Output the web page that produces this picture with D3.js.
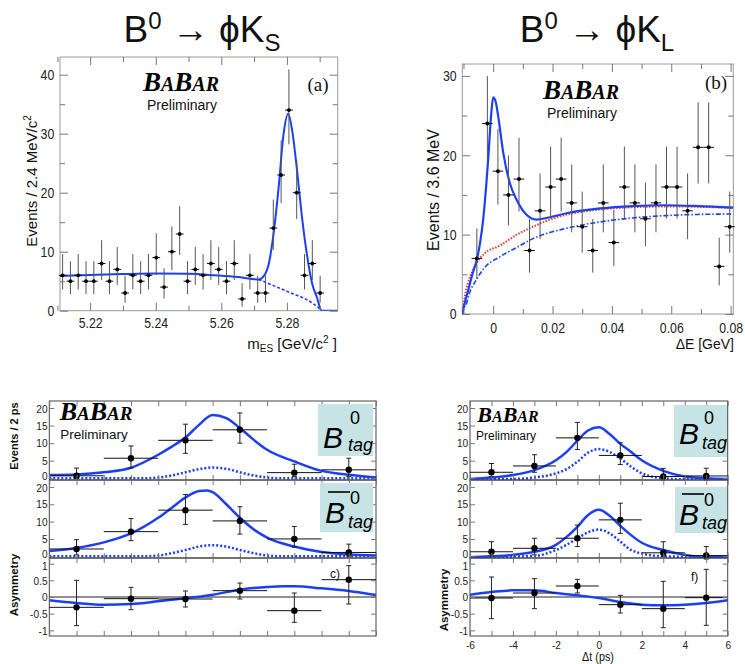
<!DOCTYPE html>
<html>
<head>
<meta charset="utf-8">
<script src="https://cdn.jsdelivr.net/npm/d3@7"></script>
<style>
  body { margin: 0; background: #fff; }
  svg { display: block; }
</style>
</head>
<body>
<div id="chart"></div>
<script>
////////////
// DATA
////////////

// (a) B0 -> phi K_S, m_ES histogram (events per bin)
const aBinStart = 5.2116, aBinWidth = 0.00238;
const aCounts = [6, 5, 6, 5, 5, 8, 5, 7, 3, 6, 5, 6, 9, 4, 10, 13, 5, 7, 6, 8, 7, 5, 8, 2, 6, 3, 3, 14, 23, 34, 20, 6, 8, 3];
// fit curves: [m_ES, events]
const aFitTotal = [[5.2108, 5.9], [5.22, 6.05], [5.23, 6.2], [5.24, 6.3], [5.25, 6.25], [5.258, 6.0], [5.265, 5.7], [5.27, 5.35],
  [5.2714, 5.3], [5.273, 5.9], [5.2745, 8.0], [5.276, 13.3], [5.2775, 21.0], [5.279, 30.0], [5.2804, 33.4], [5.2816, 30.6],
  [5.2831, 23.8], [5.2846, 15.9], [5.2862, 9.2], [5.2877, 4.6], [5.2892, 2.2], [5.2906, 0], [5.2955, 0]];
const aFitBkg = [[5.2714, 5.3], [5.274, 4.7], [5.277, 4.0], [5.28, 3.3], [5.283, 2.6], [5.286, 1.9], [5.288, 1.2], [5.2895, 0.6], [5.2906, 0]];
const aTicksX = [5.22, 5.24, 5.26, 5.28];
const aMinorX = [5.21, 5.23, 5.25, 5.27, 5.29];
const aTicksY = [0, 10, 20, 30, 40];
const aMinorY = [5, 15, 25, 35];

// (b) B0 -> phi K_L, Delta E histogram
const bBinStart = -0.0055, bBinWidth = 0.00355;
const bCounts = [7, 24, 18, 15, 17, 8, 13, 16, 17, 14, 11, 8, 14, 9, 16, 14, 12, 14, 16, 16, 13, 21, 21, 6, 11];
const bFitTotal = [[-0.0104, 0], [-0.0095, 1.5], [-0.0084, 3.0], [-0.007, 5.0], [-0.0054, 7.0], [-0.0044, 9.0], [-0.0034, 11.8],
  [-0.0017, 19.4], [-0.0007, 25.0], [0.0, 27.3], [0.0008, 26.8], [0.0017, 24.9], [0.0034, 20.3], [0.0056, 16.5], [0.0079, 14.4],
  [0.011, 12.6], [0.0146, 11.9], [0.018, 12.1], [0.0247, 12.7], [0.036, 13.3], [0.047, 13.6], [0.058, 13.7], [0.069, 13.6], [0.0809, 13.4]];
const bFitRed = [[-0.0104, 0], [-0.01, 1.0], [-0.0094, 2.5], [-0.0084, 4.0], [-0.007, 5.4], [-0.0056, 6.4], [-0.003, 7.6],
  [0.0022, 8.6], [0.008, 10.0], [0.0134, 11.0], [0.0224, 12.3], [0.0303, 12.9], [0.04, 13.3], [0.05, 13.5], [0.06, 13.55], [0.07, 13.5], [0.0809, 13.35]];
const bFitBlue = [[-0.0104, 0], [-0.01, 0.6], [-0.009, 1.3], [-0.008, 2.6], [-0.0057, 4.3], [-0.003, 5.8], [0.0022, 7.2],
  [0.008, 8.4], [0.0134, 9.5], [0.0247, 10.8], [0.036, 11.6], [0.047, 12.1], [0.058, 12.4], [0.07, 12.55], [0.0809, 12.6]];
const bTicksX = [0, 0.02, 0.04, 0.06, 0.08];
const bMinorX = [-0.01, 0.01, 0.03, 0.05, 0.07];
const bTicksY = [0, 10, 20, 30];
const bMinorY = [5, 15, 25];

// Delta t plots (bins of 2 ps)
const dtCenters = [-5, -3, -1, 1, 3, 5];
const dtHalf = 1;
const dtTicks = [-6, -4, -2, 0, 2, 4, 6];
const dtMinor = [-5, -3, -1, 1, 3, 5];
const evTicks = [0, 5, 10, 15, 20];
const asymTicks = [-1, -0.5, 0, 0.5, 1];

// phi K_S (left)
const ksTagVals = [0.7, 5.7, 10.8, 13.8, 1.6, 2.4];
const ksTagUp = [2.2, 3.5, 4.6, 4.8, 2.4, 3.3];
const ksTagDn = [0.7, 2.8, 3.7, 3.8, 1.1, 1.9];
const ksBarVals = [2.1, 7.1, 13.3, 10.2, 5.0, 1.1];
const ksBarUp = [2.7, 3.8, 4.5, 4.1, 3.6, 2.4];
const ksBarDn = [1.7, 2.6, 4.1, 3.8, 2.4, 1.1];
const ksAsymVals = [-0.31, -0.05, -0.06, 0.19, -0.41, 0.52];
const ksAsymUp = [0.81, 0.34, 0.24, 0.23, 0.53, 0.42];
const ksAsymDn = [0.55, 0.33, 0.24, 0.25, 0.35, 0.73];
const ksTagFit = [[-6, 0.95], [-5, 1.1], [-4, 1.7], [-3, 3.0], [-2, 6.7], [-1.5, 9.0], [-1, 11.6], [-0.5, 15.2], [0, 18.0],
  [0.5, 17.1], [1, 14.3], [1.5, 11.0], [2, 8.1], [3, 4.8], [4, 2.1], [5, 1.0], [6, 0.2]];
const ksTagSig = [[-6, 0], [-2.5, 0], [-2, 0.2], [-1.5, 0.8], [-1, 1.7], [-0.5, 2.6], [0, 3.05], [0.5, 2.7], [1, 1.7],
  [1.5, 0.8], [2, 0.2], [2.5, 0], [6, 0]];
const ksBarFit = [[-6, 1.5], [-5, 2.4], [-4, 4.0], [-3, 6.6], [-2, 11.1], [-1.5, 14.0], [-1, 16.9], [-0.5, 18.8], [-0.2, 19.0],
  [0, 18.5], [0.5, 15.0], [1, 11.1], [1.5, 7.8], [2, 5.4], [3, 2.8], [4, 1.2], [5, 0.5], [6, 0.2]];
const ksBarSig = [[-6, 0], [-2.5, 0], [-2, 0.2], [-1.5, 0.9], [-1, 1.8], [-0.5, 2.8], [0, 3.2], [0.5, 2.8], [1, 1.8],
  [1.5, 0.9], [2, 0.2], [2.5, 0], [6, 0]];
const ksAsymFit = [[-6, -0.1], [-5, -0.18], [-4, -0.23], [-3, -0.21], [-2, -0.13], [-1, -0.04], [0, 0.07], [1, 0.22],
  [2, 0.3], [2.6, 0.32], [3, 0.32], [4, 0.26], [5, 0.18], [6, 0.06]];

// phi K_L (right)
const klTagVals = [1.7, 3.5, 11.5, 6.5, 0.5, 0.65];
const klTagUp = [2.5, 3.2, 4.4, 3.6, 2.3, 2.2];
const klTagDn = [1.2, 1.8, 3.3, 2.6, 1.0, 1.1];
const klBarVals = [1.3, 2.3, 5.2, 10.5, 1.0, 0.2];
const klBarUp = [2.9, 2.9, 3.8, 4.8, 3.2, 2.6];
const klBarDn = [1.3, 1.9, 2.4, 3.9, 1.0, 1.0];
const klAsymVals = [-0.03, 0.12, 0.33, -0.23, -0.35, -0.02];
const klAsymUp = [0.63, 0.43, 0.2, 0.28, 0.82, 0.85];
const klAsymDn = [0.62, 0.47, 0.21, 0.25, 0.57, 0.83];
const klTagFit = [[-6, -0.2], [-5, 0.2], [-4, 0.9], [-3, 2.3], [-2, 5.1], [-1.5, 7.5], [-1, 10.7], [-0.5, 13.6], [0, 14.5],
  [0.5, 12.6], [1, 9.8], [1.5, 7.5], [2, 5.1], [3, 2.1], [4, 0.5], [5, 0], [6, -0.2]];
const klTagSig = [[-6, -0.3], [-4, -0.2], [-3, 0.2], [-2, 1.4], [-1.5, 2.6], [-1, 4.7], [-0.5, 7.3], [0, 8.3], [0.5, 7.5],
  [1, 5.6], [1.5, 3.3], [2, 1.4], [3, 0], [4, -0.3], [6, -0.3]];
const klBarFit = [[-6, -0.3], [-5, 0], [-4, 0.4], [-3, 1.3], [-2, 3.3], [-1.5, 5.6], [-1, 8.5], [-0.5, 11.9], [0, 13.4],
  [0.5, 11.7], [1, 8.8], [1.5, 6.1], [2, 3.9], [3, 1.8], [4, 0.4], [5, -0.2], [6, -0.3]];
const klBarSig = [[-6, -0.3], [-3, 0.1], [-2, 1.8], [-1.5, 3.3], [-1, 5.2], [-0.5, 6.9], [0, 7.7], [0.5, 6.6], [1, 4.2],
  [1.5, 1.8], [2, 0.8], [3, 0], [6, -0.3]];
const klAsymFit = [[-6, 0.07], [-5, 0.15], [-4, 0.2], [-3, 0.2], [-2, 0.12], [-1, 0.05], [0, -0.03], [1, -0.15], [2, -0.23],
  [3, -0.25], [4, -0.23], [5, -0.18], [6, -0.1]];

////////////
// SETTINGS
////////////
const SANS = "'Liberation Sans',Arial,Helvetica,sans-serif";
const SERIF = "'Liberation Serif','Times New Roman',serif";
const BLUE = "#1c3ff2", RED = "#e8362e";

const svg = d3.select("#chart").append("svg").attr("width", 745).attr("height", 664);

// ROOT style asymmetric Poisson errors for the histogram counts
const poissonUp = n => Math.sqrt(n + 0.75) + 1;
const poissonDn = n => n > 0 ? Math.sqrt(n - 0.25) : 0;

////////////
// HELPERS
////////////
function makePanel(id, x0, x1, y0, y1, xDom, yDom, frameColor) {
  const p = {
    x0, x1, y0, y1,
    x: d3.scaleLinear().domain(xDom).range([x0, x1]),
    y: d3.scaleLinear().domain(yDom).range([y1, y0])
  };
  svg.append("clipPath").attr("id", id).append("rect")
    .attr("x", x0).attr("y", y0).attr("width", x1 - x0).attr("height", y1 - y0);
  svg.append("rect").attr("x", x0).attr("y", y0).attr("width", x1 - x0).attr("height", y1 - y0)
    .attr("fill", "none").attr("stroke", frameColor).attr("stroke-width", 1);
  p.g = svg.append("g").attr("clip-path", `url(#${id})`);
  p.top = svg.append("g");
  return p;
}

// tick labels are a narrow sans, so squeeze Liberation Sans horizontally
function axis(fn, scale, values, size, tr, labels, fontSize, pad, squeeze) {
  const ax = fn(scale).tickValues(values).tickSizeInner(-size).tickSizeOuter(0).tickPadding(pad || 4)
    .tickFormat(labels ? (d => String(d)) : "");
  const g = svg.append("g").attr("transform", tr).call(ax);
  g.select(".domain").remove();
  g.selectAll(".tick line").attr("stroke", "#777");
  g.selectAll(".tick text").attr("font-family", SANS).attr("font-size", fontSize).attr("fill", "#222")
    .attr("transform", `scale(${squeeze || 0.82},1)`);
  return g;
}

// ticks on all four sides, labels only bottom/left
function frameTicks(p, o) {
  const xl = o.xLabels !== false;
  axis(d3.axisBottom, p.x, o.xMajor, o.len, `translate(0,${p.y1})`, xl, o.font, o.xPad, o.squeeze);
  axis(d3.axisTop, p.x, o.xMajor, o.len, `translate(0,${p.y0})`, false);
  const left = axis(d3.axisLeft, p.y, o.yMajor, o.len, `translate(${p.x0},0)`, true, o.font, o.yPad, o.squeeze);
  axis(d3.axisRight, p.y, o.yMajor, o.len, `translate(${p.x1},0)`, false);
  if (o.xMinor) {
    axis(d3.axisBottom, p.x, o.xMinor, o.minLen, `translate(0,${p.y1})`, false);
    axis(d3.axisTop, p.x, o.xMinor, o.minLen, `translate(0,${p.y0})`, false);
  }
  if (o.yMinor) {
    axis(d3.axisLeft, p.y, o.yMinor, o.minLen, `translate(${p.x0},0)`, false);
    axis(d3.axisRight, p.y, o.yMinor, o.minLen, `translate(${p.x1},0)`, false);
  }
  return left;
}

function drawCurve(p, pts, color, width, dash) {
  p.g.append("path").datum(pts)
    .attr("d", d3.line().x(d => p.x(d[0])).y(d => p.y(d[1])).curve(d3.curveMonotoneX))
    .attr("fill", "none").attr("stroke", color).attr("stroke-width", width)
    .attr("stroke-dasharray", dash || null).attr("stroke-linecap", "butt");
}

function drawPoints(p, xs, ys, up, dn, halfW, r, cap, vColor) {
  const pts = xs.map((x, i) => ({ x, y: ys[i], up: up[i], dn: dn[i] }));
  const g = p.top.append("g");
  g.selectAll(".h").data(pts).join("line")
    .attr("x1", d => p.x(d.x - halfW)).attr("x2", d => p.x(d.x + halfW))
    .attr("y1", d => p.y(d.y)).attr("y2", d => p.y(d.y))
    .attr("stroke", "#111").attr("stroke-width", 1);
  g.selectAll(".v").data(pts).join("line")
    .attr("x1", d => p.x(d.x)).attr("x2", d => p.x(d.x))
    .attr("y1", d => p.y(d.y + d.up)).attr("y2", d => p.y(d.y - d.dn))
    .attr("stroke", vColor).attr("stroke-width", 1);
  if (cap) {
    ["up", "dn"].forEach(k => {
      g.selectAll(".c" + k).data(pts).join("line")
        .attr("x1", d => p.x(d.x) - cap).attr("x2", d => p.x(d.x) + cap)
        .attr("y1", d => p.y(k === "up" ? d.y + d.up : d.y - d.dn))
        .attr("y2", d => p.y(k === "up" ? d.y + d.up : d.y - d.dn))
        .attr("stroke", vColor).attr("stroke-width", 1);
    });
  }
  g.selectAll("circle").data(pts).join("circle")
    .attr("cx", d => p.x(d.x)).attr("cy", d => p.y(d.y)).attr("r", r).attr("fill", "#000");
}

function richText(x, y, parts, o) {
  let tr = `translate(${x},${y})`;
  if (o.rotate) tr += " rotate(-90)";
  if (o.squeeze) tr += ` scale(${o.squeeze},1)`;
  const t = svg.append("text").attr("transform", tr)
    .attr("font-family", o.family || SANS).attr("font-size", o.size)
    .attr("text-anchor", o.anchor || "middle").attr("fill", "#111");
  if (o.weight) t.attr("font-weight", o.weight);
  parts.forEach(pt => {
    const s = t.append("tspan").text(pt.t);
    if (pt.size) s.attr("font-size", pt.size);
    if (pt.dy) s.attr("dy", pt.dy);
    if (pt.weight) s.attr("font-weight", pt.weight);
  });
  return t;
}

function babar(cx, base, big, small) {
  richText(cx, base, [
    { t: "B" }, { t: "A", size: small }, { t: "B" }, { t: "AR", size: small }
  ], { family: SERIF, size: big, weight: "bold" }).attr("font-style", "italic").attr("fill", "#000");
}

function prelim(cx, base, size) {
  richText(cx, base, [{ t: "Preliminary" }], { size });
}

function tagBox(b) {
  svg.append("rect").attr("x", b.x).attr("y", b.y).attr("width", b.w).attr("height", b.h).attr("fill", "#c6e4e6");
  svg.append("text").attr("x", b.bx).attr("y", b.by).text("B")
    .attr("font-family", SANS).attr("font-style", "italic").attr("font-size", 30).attr("fill", "#000");
  svg.append("text").attr("x", b.sx).attr("y", b.sy).text("0")
    .attr("font-family", SANS).attr("font-size", 18).attr("fill", "#000");
  svg.append("text").attr("x", b.tx).attr("y", b.ty).text("tag")
    .attr("font-family", SANS).attr("font-style", "italic").attr("font-size", 18).attr("fill", "#000");
  if (b.bar) {
    svg.append("line").attr("x1", b.bx + 3).attr("x2", b.bx + 25).attr("y1", b.by - 31).attr("y2", b.by - 31)
      .attr("stroke", "#000").attr("stroke-width", 1.6);
  }
}

////////////
// TITLES
////////////
[[202, "S"], [597, "L"]].forEach(([cx, sub]) => {
  richText(cx, 42, [
    { t: "B" }, { t: "0", size: 24, dy: -13 }, { t: " \u2192 ", dy: 13, weight: "bold" }, { t: "\u03d5K" },
    { t: sub, size: 24, dy: 9 }
  ], { size: 37 });
});

////////////
// (a) m_ES
////////////
const pa = makePanel("clipA", 60, 337.7, 57, 310.7, [5.2108, 5.2955], [0, 43], "#999");
frameTicks(pa, { xMajor: aTicksX, xMinor: aMinorX, yMajor: aTicksY, yMinor: aMinorY, len: 8, minLen: 5, font: 15, xPad: 7, yPad: 7 });
drawCurve(pa, aFitBkg, BLUE, 1.6, "3,2");
drawCurve(pa, aFitTotal, BLUE, 2);
drawPoints(pa, aCounts.map((c, i) => aBinStart + i * aBinWidth), aCounts,
  aCounts.map(poissonUp), aCounts.map(poissonDn), aBinWidth / 2, 1.9, 0, "#555");
babar(181, 91, 27, 20);
prelim(182, 110, 14);
svg.append("text").attr("x", 318).attr("y", 91).attr("text-anchor", "middle").text("(a)")
  .attr("font-family", SERIF).attr("font-size", 19).attr("fill", "#111");
richText(37, 181, [{ t: "Events / 2.4 MeV/c" }, { t: "2", size: 10, dy: -6 }], { size: 15, rotate: true });
richText(337, 349, [
  { t: "m" }, { t: "ES", size: 10, dy: 3 }, { t: " [GeV/c", dy: -3 }, { t: "2", size: 10, dy: -6 }, { t: " ]", dy: 6 }
], { size: 15, anchor: "end" });

////////////
// (b) Delta E
////////////
const pb = makePanel("clipB", 462.3, 733.3, 64, 314, [-0.0104, 0.0809], [0, 31.5], "#999");
frameTicks(pb, { xMajor: bTicksX, xMinor: bMinorX, yMajor: bTicksY, yMinor: bMinorY, len: 8, minLen: 5, font: 15, xPad: 8, yPad: 7 });
drawCurve(pb, bFitBlue, BLUE, 1.6, "5,2,1.5,2");
drawCurve(pb, bFitRed, RED, 2, "1.5,1.5");
drawCurve(pb, bFitTotal, BLUE, 2.2);
drawPoints(pb, bCounts.map((c, i) => bBinStart + i * bBinWidth), bCounts,
  bCounts.map(poissonUp), bCounts.map(poissonDn), bBinWidth / 2, 2, 0, "#555");
babar(581, 99, 27, 20);
prelim(582, 118, 14);
svg.append("text").attr("x", 716).attr("y", 89).attr("text-anchor", "middle").text("(b)")
  .attr("font-family", SERIF).attr("font-size", 19).attr("fill", "#111");
richText(439, 190, [{ t: "Events / 3.6 MeV" }], { size: 16, rotate: true });
richText(734, 349, [{ t: "\u0394E [GeV]" }], { size: 14, anchor: "end" });

////////////
// DELTA T PANELS
////////////
const rows = [[401, 480, [-0.5, 22]], [480, 558, [-0.5, 22]], [558, 636, [-1.17, 1.17]]];

function dtColumn(key, x0, x1, sets, xLabels) {
  return rows.map((r, k) => {
    const p = makePanel(key + k, x0, x1, r[0], r[1], [-6, 6], r[2], "#444");
    const isAsym = k === 2;
    const left = frameTicks(p, {
      xMajor: dtTicks, xMinor: dtMinor, yMajor: isAsym ? asymTicks : evTicks,
      len: 5, minLen: 5, font: 11.5, xPad: 5, yPad: 2, xLabels: isAsym && xLabels, squeeze: 0.88
    });
    // keep the crowded labels at the panel joins apart
    left.selectAll(".tick text").attr("transform", d => {
      const shift = isAsym ? (d === 1 ? 2 : 0) : (d === 0 ? -2 : d === 20 ? 1 : 0);
      return `translate(0,${shift}) scale(0.88,1)`;
    });
    if (isAsym) {
      p.g.append("line").attr("x1", x0).attr("x2", x1).attr("y1", p.y(0)).attr("y2", p.y(0))
        .attr("stroke", "#222").attr("stroke-width", 1);
    } else {
      drawCurve(p, sets[k].sig, BLUE, 2.5, "2,2");
    }
    drawCurve(p, sets[k].fit, BLUE, 2.5);
    drawPoints(p, dtCenters, sets[k].vals, sets[k].up, sets[k].dn, dtHalf, 3.2, 2.5, "#222");
    return p;
  });
}

dtColumn("ks", 49.3, 376, [
  { vals: ksTagVals, up: ksTagUp, dn: ksTagDn, fit: ksTagFit, sig: ksTagSig },
  { vals: ksBarVals, up: ksBarUp, dn: ksBarDn, fit: ksBarFit, sig: ksBarSig },
  { vals: ksAsymVals, up: ksAsymUp, dn: ksAsymDn, fit: ksAsymFit }
], false);

dtColumn("kl", 470, 727.7, [
  { vals: klTagVals, up: klTagUp, dn: klTagDn, fit: klTagFit, sig: klTagSig },
  { vals: klBarVals, up: klBarUp, dn: klBarDn, fit: klBarFit, sig: klBarSig },
  { vals: klAsymVals, up: klAsymUp, dn: klAsymDn, fit: klAsymFit }
], true);

// logos, tag boxes and labels
babar(96, 420, 26, 19);
prelim(94, 439, 13.5);
babar(508, 422, 22, 16);
prelim(506, 440, 12);

[
  { x: 318, y: 404, w: 55, h: 52, bar: false, bx: 323, by: 448, sx: 350, sy: 424, tx: 348, ty: 451 },
  { x: 320, y: 483, w: 53, h: 49, bar: true, bx: 325, by: 523, sx: 350, sy: 504, tx: 348, ty: 528 },
  { x: 674, y: 405, w: 53, h: 52, bar: false, bx: 679, by: 444, sx: 704, sy: 424, tx: 702, ty: 449 },
  { x: 675, y: 487, w: 52, h: 46, bar: true, bx: 679, by: 525, sx: 704, sy: 506, tx: 702, ty: 529 }
].forEach(tagBox);

svg.append("text").attr("x", 330).attr("y", 578).text("c)")
  .attr("font-family", SANS).attr("font-size", 12).attr("fill", "#111");
svg.append("text").attr("x", 691).attr("y", 581).text("f)")
  .attr("font-family", SANS).attr("font-size", 12).attr("fill", "#111");

richText(18, 436, [{ t: "Events / 2 ps" }], { size: 11, weight: "bold", rotate: true });
richText(18, 585, [{ t: "Asymmetry" }], { size: 11.5, weight: "bold", rotate: true });
richText(448, 600, [{ t: "Asymmetry" }], { size: 11.5, weight: "bold", rotate: true });
richText(598, 661, [{ t: "\u0394t (ps)" }], { size: 12, squeeze: 0.9 });
</script>
</body>
</html>
